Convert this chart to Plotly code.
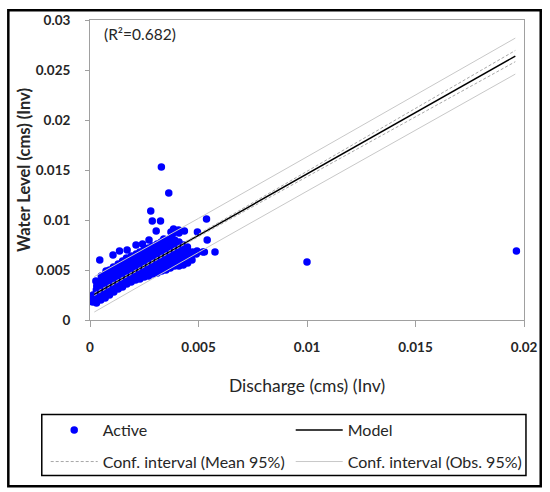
import plotly.graph_objects as go

# Observed (inverse-transformed) discharge vs water level
active_x = [
    0.00012, 0.00016, 0.00014,
    0.00030, 0.00028, 0.00033, 0.00029, 0.00031, 0.00027,
    0.00050, 0.00053, 0.00048, 0.00051, 0.00049, 0.00054, 0.00052,
    0.00070, 0.00068, 0.00073, 0.00071, 0.00069, 0.00072, 0.00070, 0.00074,
    0.00090, 0.00093, 0.00088, 0.00091, 0.00089, 0.00092, 0.00090,
    0.00110, 0.00108, 0.00112, 0.00109, 0.00113, 0.00111, 0.00108,
    0.00130, 0.00133, 0.00128, 0.00131, 0.00129, 0.00132, 0.00130,
    0.00150, 0.00148, 0.00152, 0.00149, 0.00153, 0.00151, 0.00148, 0.00150,
    0.00170, 0.00173, 0.00168, 0.00171, 0.00169, 0.00172, 0.00170, 0.00168,
    0.00190, 0.00188, 0.00192, 0.00189, 0.00193, 0.00191, 0.00188, 0.00190,
    0.00210, 0.00213, 0.00208, 0.00211, 0.00209, 0.00212, 0.00210, 0.00213,
    0.00230, 0.00228, 0.00232, 0.00229, 0.00233, 0.00231, 0.00228, 0.00230,
    0.00250, 0.00253, 0.00248, 0.00251, 0.00249, 0.00252, 0.00250, 0.00248,
    0.00270, 0.00268, 0.00272, 0.00269, 0.00273, 0.00271, 0.00268, 0.00270,
    0.00290, 0.00293, 0.00288, 0.00291, 0.00289, 0.00292, 0.00290, 0.00288,
    0.00310, 0.00308, 0.00312, 0.00309, 0.00313, 0.00311, 0.00308, 0.00310,
    0.00330, 0.00333, 0.00328, 0.00331, 0.00329, 0.00332, 0.00330, 0.00328,
    0.00350, 0.00348, 0.00352, 0.00349, 0.00353, 0.00351, 0.00348, 0.00350, 0.00352,
    0.00370, 0.00373, 0.00368, 0.00371, 0.00369, 0.00372, 0.00370, 0.00368,
    0.00390, 0.00388, 0.00392, 0.00389, 0.00393, 0.00391, 0.00388, 0.00390,
    0.00410, 0.00413, 0.00408, 0.00411, 0.00409, 0.00412, 0.00410,
    0.00430, 0.00428, 0.00432, 0.00429, 0.00433, 0.00431,
    0.00450, 0.00453, 0.00448, 0.00451, 0.00449,
    0.00470, 0.00468, 0.00472,
    0.00490, 0.00493, 0.00520,
    0.00045, 0.00106, 0.00136, 0.00171, 0.00212, 0.00242, 0.00272, 0.00280,
    0.00287, 0.00325, 0.00305, 0.00329, 0.00363, 0.00340, 0.00373, 0.00385,
    0.00408, 0.00435, 0.00495, 0.00537, 0.00540, 0.00576, 0.00527, 0.00380,
    0.00410, 0.01000, 0.01965,
]
active_y = [
    0.0018, 0.0021, 0.0025,
    0.0017, 0.0022, 0.0026, 0.0030, 0.0034, 0.0039,
    0.0020, 0.0024, 0.0028, 0.0032, 0.0036, 0.0040, 0.0044,
    0.0022, 0.0026, 0.0030, 0.0034, 0.0038, 0.0042, 0.0046, 0.0049,
    0.0025, 0.0029, 0.0033, 0.0037, 0.0041, 0.0045, 0.0050,
    0.0028, 0.0032, 0.0036, 0.0040, 0.0044, 0.0048, 0.0053,
    0.0031, 0.0035, 0.0039, 0.0043, 0.0047, 0.0051, 0.0056,
    0.0033, 0.0037, 0.0041, 0.0045, 0.0049, 0.0053, 0.0056, 0.0059,
    0.0036, 0.0040, 0.0044, 0.0048, 0.0052, 0.0056, 0.0059, 0.0062,
    0.0038, 0.0042, 0.0046, 0.0050, 0.0054, 0.0058, 0.0061, 0.0064,
    0.0040, 0.0044, 0.0048, 0.0052, 0.0056, 0.0060, 0.0063, 0.0066,
    0.0041, 0.0045, 0.0049, 0.0053, 0.0057, 0.0061, 0.0065, 0.0068,
    0.0043, 0.0047, 0.0051, 0.0055, 0.0059, 0.0063, 0.0067, 0.0070,
    0.0044, 0.0048, 0.0052, 0.0056, 0.0060, 0.0064, 0.0068, 0.0072,
    0.0046, 0.0050, 0.0054, 0.0058, 0.0062, 0.0066, 0.0070, 0.0074,
    0.0047, 0.0051, 0.0055, 0.0059, 0.0063, 0.0067, 0.0071, 0.0076,
    0.0049, 0.0053, 0.0057, 0.0061, 0.0065, 0.0069, 0.0073, 0.0078,
    0.0050, 0.0054, 0.0058, 0.0062, 0.0066, 0.0070, 0.0074, 0.0078, 0.0080,
    0.0052, 0.0056, 0.0060, 0.0064, 0.0068, 0.0072, 0.0076, 0.0081,
    0.0054, 0.0058, 0.0062, 0.0066, 0.0070, 0.0074, 0.0078, 0.0080,
    0.0054, 0.0058, 0.0062, 0.0066, 0.0070, 0.0074, 0.0078,
    0.0055, 0.0059, 0.0063, 0.0067, 0.0071, 0.0075,
    0.0057, 0.0061, 0.0065, 0.0069, 0.0073,
    0.0060, 0.0064, 0.0068,
    0.0066, 0.0069, 0.0068,
    0.0060, 0.0065, 0.0069, 0.0070, 0.0075, 0.0076, 0.0080, 0.0109,
    0.0099, 0.0099, 0.0089, 0.0153, 0.0127, 0.0081, 0.0088, 0.0091,
    0.0090, 0.0089, 0.0088, 0.0101, 0.0080, 0.0068, 0.0068, 0.0086,
    0.0087, 0.0058, 0.0069,
]

# Fitted model and 95% confidence bands
band_x = [0.0002, 0.002, 0.005, 0.01, 0.015, 0.0196]
model_y = [0.00257, 0.00478, 0.00846, 0.01460, 0.02074, 0.02639]
ci_mean_upper = [0.00270, 0.00487, 0.00858, 0.01485, 0.02112, 0.02695]
ci_mean_lower = [0.00244, 0.00469, 0.00834, 0.01435, 0.02036, 0.02583]
ci_obs_upper = [0.00434, 0.00650, 0.01016, 0.01632, 0.02249, 0.02819]
ci_obs_lower = [0.00080, 0.00306, 0.00676, 0.01288, 0.01899, 0.02459]

r_squared = 0.682

x_ticks = [0, 0.005, 0.01, 0.015, 0.02]
x_tick_labels = ["0", "0.005", "0.01", "0.015", "0.02"]
y_ticks = [0, 0.005, 0.01, 0.015, 0.02, 0.025, 0.03]
y_tick_labels = ["0", "0.005", "0.01", "0.015", "0.02", "0.025", "0.03"]

FONT = "Lato, 'Open Sans', sans-serif"
TEXT = "#262626"
MEAN_GREY = "#a8a8a8"
OBS_GREY = "#c8c8c8"

fig = go.Figure()

fig.add_trace(go.Scatter(
    x=active_x, y=active_y, mode="markers", name="Active",
    marker=dict(color="#0000ff", size=7.5, line=dict(width=0)),
    legend="legend",
))
fig.add_trace(go.Scatter(
    x=band_x, y=model_y, mode="lines", name="Model",
    line=dict(color="#000000", width=1.5), legend="legend",
))
fig.add_trace(go.Scatter(
    x=band_x, y=ci_mean_upper, mode="lines", name="Conf. interval (Mean 95%)",
    line=dict(color=MEAN_GREY, width=1, dash="3px,2px"), legend="legend2",
))
fig.add_trace(go.Scatter(
    x=band_x, y=ci_obs_upper, mode="lines", name="Conf. interval (Obs. 95%)",
    line=dict(color=OBS_GREY, width=1), legend="legend2",
))
fig.add_trace(go.Scatter(
    x=band_x, y=ci_mean_lower, mode="lines", showlegend=False,
    line=dict(color=MEAN_GREY, width=1, dash="3px,2px"),
))
fig.add_trace(go.Scatter(
    x=band_x, y=ci_obs_lower, mode="lines", showlegend=False,
    line=dict(color=OBS_GREY, width=1),
))

# Pixel helpers for paper placement (plot area spans 90..531 x 15..320)
L, R, T, B = 90, 531, 15, 320
def px(x):
    return (x - L) / (R - L)
def py(y):
    return (B - y) / (B - T)

legend_common = dict(
    orientation="h", entrywidth=183, entrywidthmode="pixels",
    font=dict(family=FONT, size=16, color=TEXT),
    bgcolor="rgba(0,0,0,0)", borderwidth=0,
    xanchor="left", yanchor="middle", itemwidth=47,
)

fig.update_layout(
    width=550, height=492,
    margin=dict(l=L, r=550 - R, t=T, b=492 - B),
    paper_bgcolor="white", plot_bgcolor="white",
    font=dict(family=FONT, color=TEXT),
    legend=dict(x=px(45), y=py(432), **legend_common),
    legend2=dict(x=px(45), y=py(464), **legend_common),
    xaxis=dict(
        range=[0, 0.02], tickvals=x_ticks, ticktext=x_tick_labels,
        showgrid=False, zeroline=False,
        showline=True, linecolor="#a0a0a0", linewidth=1, mirror=True,
        ticks="outside", ticklen=6, tickcolor="#a0a0a0",
        ticklabelstandoff=9,
        tickfont=dict(family=FONT, size=13.5, color=TEXT, weight="bold"),
        title=dict(text="Discharge (cms) (Inv)", standoff=25,
                   font=dict(family=FONT, size=17.5, color=TEXT)),
    ),
    yaxis=dict(
        range=[0, 0.03], tickvals=y_ticks, ticktext=y_tick_labels,
        showgrid=False, zeroline=False,
        showline=True, linecolor="#a0a0a0", linewidth=1, mirror=True,
        ticks="outside", ticklen=4, tickcolor="#a0a0a0",
        ticklabelstandoff=12,
        tickfont=dict(family=FONT, size=13.5, color=TEXT, weight="bold"),
        title=dict(text="Water Level (cms) (Inv)", standoff=0,
                   font=dict(family=FONT, size=16.5, color=TEXT, weight="bold")),
    ),
    annotations=[dict(
        text=f"(R\u00b2={r_squared})", xref="paper", yref="paper",
        x=px(102), y=py(29), xanchor="left", yanchor="middle",
        showarrow=False, font=dict(family=FONT, size=15.5, color=TEXT),
    )],
    shapes=[
        # legend frame
        dict(type="rect", xref="paper", yref="paper",
             x0=px(41), x1=px(533), y0=py(416), y1=py(478),
             line=dict(color="#000000", width=1.5)),
        # outer frame
        dict(type="rect", xref="paper", yref="paper",
             x0=px(7), x1=px(548), y0=py(5), y1=py(489),
             line=dict(color="#000000", width=2.5)),
    ],
)

fig.write_html("out.html")
